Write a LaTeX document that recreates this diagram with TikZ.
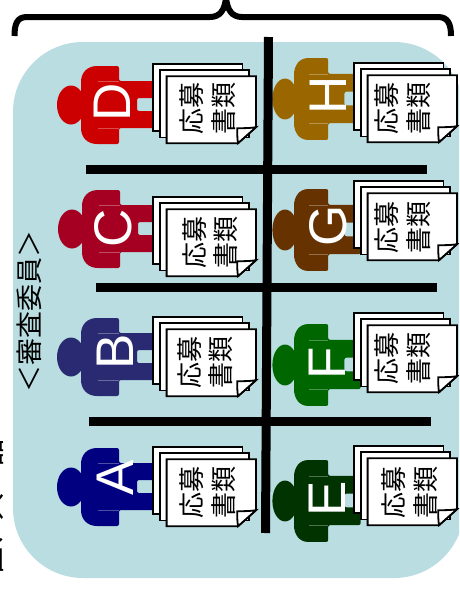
\documentclass[tikz,border=0pt]{standalone}
\usepackage{fontspec}
\setmainfont{Liberation Sans}
\newfontfamily\cjk{Noto Sans CJK JP}
\definecolor{panelblue}{HTML}{B9DDE1}
\definecolor{personD}{HTML}{CC0000}
\definecolor{personC}{HTML}{A50021}
\definecolor{personB}{HTML}{2A2A72}
\definecolor{personA}{HTML}{000080}
\definecolor{personH}{HTML}{996600}
\definecolor{personG}{HTML}{663300}
\definecolor{personF}{HTML}{006600}
\definecolor{personE}{HTML}{003300}
\tikzset{
  x=1pt,y=-1pt,
  panel/.style={fill=panelblue,rounded corners=70pt},
  divider/.style={draw=black,line width=9pt},
  bracket/.style={draw=black,line width=6pt},
  sheet/.style={draw=black,fill=white,line width=1.8pt,line join=miter},
  doclabel/.style={rotate=90,inner sep=0pt,align=center,font=\fontsize{26}{31.5}\selectfont\cjk},
  letterlabel/.style={rotate=90,inner sep=0pt,text=white,font=\fontsize{53}{53}\selectfont},
  sidelabel/.style={rotate=90,inner sep=0pt,font=\fontsize{27}{30}\selectfont\cjk}
}
% \personfig{name}{torso x}{centre y}{xscale}{yscale}{colour}{letter}{letter x}{letter y}
\newcommand{\personfig}[9]{%
  \begin{scope}[shift={(#2,#3)},xscale=#4,yscale=#5]
    \fill[#6] (-10,0) ellipse [x radius=14,y radius=19.5];
    \fill[#6,rounded corners=2pt] (38,-39) -- (38,-24) -- (74,-24) -- (74,-7) -- (56,-7) -- (56,6) -- (74,6) -- (74,23) -- (38,23) -- (38,39) -- (18,39) .. controls (6,39) and (0,32) .. (0,21) -- (0,-21) .. controls (0,-32) and (6,-39) .. (18,-39) -- cycle;
    \draw[white,opacity=.3,line width=.5pt] (17,-24) -- (38,-24) (17,23) -- (38,23);
  \end{scope}
  \node[letterlabel] (#1) at (#8,#9) {#7};
}
% \docstack{name}{sheet-3 x}{sheet-3 y}{text offset x}{text offset y}
\newcommand{\docstack}[5]{%
  \begin{scope}[shift={(#2,#3)},xshift=.6pt,yshift=-.2pt]
    \path[sheet] (-13.6,-12.6) rectangle (75.8,54.6);
    \path[sheet] (-6.6,-6) rectangle (82.4,61.2);
    \path[sheet] (0,0) -- (89.4,0) -- (89.4,51) -- (71.4,67) -- (0,67) -- cycle;
    \path[sheet] (71.4,67) .. controls (70.6,62) and (70.6,57) .. (70.6,52) .. controls (77,52) and (84,52) .. (89.4,51) -- cycle;
    \node[doclabel] (#1) at (#4,#5) {応募\\書類};
  \end{scope}
}
\begin{document}
\begin{tikzpicture}
  \clip (0,0) rectangle (459,590);
  \fill[white] (0,0) rectangle (459,590);
  \path[panel] (13,42) rectangle (464,578);

  \personfig{letterD}{81}{105}{1}{1}{personD}{D}{112}{102}
  \personfig{letterC}{82}{229}{1}{1}{personC}{C}{113}{228}
  \personfig{letterB}{81}{357}{1}{1}{personB}{B}{115}{352}
  \personfig{letterA}{81}{487}{1}{1}{personA}{A}{115}{478}
  \personfig{letterH}{294}{99}{.9}{1.05}{personH}{H}{328}{95}
  \personfig{letterG}{294}{230}{.9}{1.05}{personG}{G}{328}{226}
  \personfig{letterF}{294}{365}{.9}{1.05}{personF}{F}{327}{363}
  \personfig{letterE}{294}{501}{.9}{1.05}{personE}{E}{327}{499}

  \docstack{docD}{166}{76}{41}{32.5}
  \docstack{docC}{166}{209}{43.5}{33}
  \docstack{docB}{166}{329}{38.5}{33}
  \docstack{docA}{166}{459}{41}{33}
  \docstack{docH}{367}{75}{35}{33}
  \docstack{docG}{367}{193}{35}{34}
  \docstack{docF}{367}{325}{35}{33}
  \docstack{docE}{367}{458}{42}{34}

  \path[divider] (268.5,37) -- (265.5,533);
  \path[divider] (86,169.5) -- (427,169.5);
  \path[divider] (96,287.5) -- (437,287.5);
  \path[divider] (89,421.5) -- (431,421.5);

  \path[bracket] (14.5,36) .. controls (14.5,24) and (17,17) .. (27,17) -- (210,17) .. controls (220,17) and (225,10) .. (226,-3);
  \path[bracket] (451,36) .. controls (451,24) and (448,17) .. (438,17) -- (242,17) .. controls (232,17) and (227,10) .. (226,-3);

  \node[sidelabel] (side) at (29,311) {＜審査委員＞};
  \node[sidelabel,anchor=west] (cut) at (-9,575) {直、入　品};
\end{tikzpicture}
\end{document}
